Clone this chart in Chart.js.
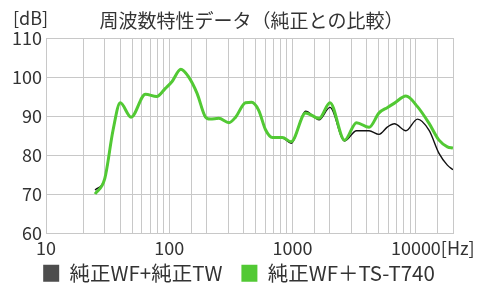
<!DOCTYPE html>
<html>
<head>
<meta charset="utf-8">
<script src="https://cdn.jsdelivr.net/npm/chart.js@4/dist/chart.umd.min.js"></script>
<style>
  html, body { margin: 0; padding: 0; background: #fff; }
  #wrap { width: 478px; height: 294px; }
</style>
</head>
<body>
<div id="wrap"><canvas id="graph"></canvas></div>
<script>
// 周波数 (Hz) と音圧 (dB)
const freqHz = [25, 30, 35, 40, 49, 64, 79, 93, 105, 124, 143, 168, 196, 215, 252, 305, 345, 415, 465, 530, 605, 685, 825, 975, 1275, 1640, 2010, 2640, 3300, 4170, 5030, 5890, 6700, 8300, 10300, 12800, 15400, 18000, 20000];
const stockDb = [71, 74, 86.4, 93.4, 89.7, 95.6, 95.0, 97.1, 98.8, 102.0, 100.1, 95.8, 89.8, 89.2, 89.4, 88.3, 89.7, 93.4, 93.5, 91.5, 86.4, 84.5, 84.4, 83.0, 91.2, 89.0, 92.2, 83.6, 86.2, 86.2, 85.3, 87.2, 88.0, 86.2, 89.2, 86.3, 80.4, 77.4, 76.2];
const t740Db = [70, 74, 86.4, 93.4, 89.7, 95.6, 95.0, 97.1, 98.8, 102.0, 100.1, 95.8, 89.8, 89.2, 89.4, 88.3, 89.7, 93.4, 93.5, 91.5, 86.4, 84.5, 84.5, 83.4, 90.8, 89.4, 93.4, 83.8, 88.3, 87.1, 90.8, 92.2, 93.3, 95.1, 92.4, 88.1, 83.8, 82.1, 81.8];
const seriesNames = ["純正WF+純正TW", "純正WF＋TS-T740"];
const xLabels = [10, 100, 1000, 10000];
const titleText = "周波数特性データ（純正との比較）";

const FONT = "'Noto Sans CJK JP', 'Noto Sans', sans-serif";
const textColor = "#333";

function toPoints(vals) {
  return freqHz.map((f, i) => ({ x: f, y: vals[i] }));
}

// タイトルと単位の描画
const extraText = {
  id: "extraText",
  afterDraw(chart) {
    const ctx = chart.ctx;
    const area = chart.chartArea;
    const x = chart.scales.x;
    ctx.save();
    ctx.fillStyle = textColor;
    ctx.textBaseline = "middle";
    ctx.font = "19px " + FONT;
    ctx.textAlign = "center";
    ctx.fillText(titleText, 251.5, 21);
    ctx.font = "18px " + FONT;
    ctx.textAlign = "left";
    ctx.fillText("[dB]", 13, 18);
    const px = x.getPixelForValue(10000);
    const w = ctx.measureText("10000").width;
    ctx.fillText("[Hz]", px + w / 2, area.bottom + 15);
    ctx.restore();
  }
};

// 凡例の高さと位置を固定する
const legendPlace = {
  id: "legendPlace",
  beforeLayout(chart) {
    const lg = chart.legend;
    if (lg && !lg._patched) {
      const orig = lg.fit.bind(lg);
      lg.fit = function () { orig(); this.height = 37; };
      lg._patched = true;
    }
  },
  afterLayout(chart) {
    const lg = chart.legend;
    lg.left = 0;
    lg.right = chart.width;
    lg.width = chart.width;
    lg.top = 244;
    lg.bottom = chart.height;
    lg.height = chart.height - 244;
  }
};

new Chart(document.getElementById("graph"), {
  type: "line",
  data: {
    datasets: [
      {
        label: seriesNames[0],
        data: toPoints(stockDb),
        borderColor: "#111",
        backgroundColor: "#4d4d4d",
        borderWidth: 1.4,
        order: 1
      },
      {
        label: seriesNames[1],
        data: toPoints(t740Db),
        borderColor: "#52c934",
        backgroundColor: "#52c934",
        borderWidth: 3,
        order: 0
      }
    ]
  },
  options: {
    responsive: true,
    maintainAspectRatio: false,
    animation: false,
    layout: { padding: { top: 38, left: 0, right: 25, bottom: 0 } },
    elements: {
      point: { radius: 0 },
      line: { cubicInterpolationMode: "monotone" }
    },
    scales: {
      x: {
        type: "logarithmic",
        min: 10,
        max: 20000,
        grid: { color: "#c8c8c8", drawTicks: false },
        border: { color: "#c8c8c8" },
        ticks: {
          autoSkip: false,
          maxRotation: 0,
          padding: 4,
          color: textColor,
          font: { family: FONT, size: 18 },
          callback: (v) => xLabels.includes(v) ? String(v) : ""
        },
        afterFit: (s) => { s.height = 24; }
      },
      y: {
        min: 60,
        max: 110,
        grid: { color: "#c8c8c8", drawTicks: false },
        border: { color: "#c8c8c8" },
        ticks: {
          stepSize: 5,
          padding: 4,
          color: textColor,
          font: { family: FONT, size: 18 },
          callback: (v) => v % 10 === 0 ? v : ""
        },
        afterFit: (s) => { s.width = 46; }
      }
    },
    plugins: {
      title: { display: false },
      tooltip: { enabled: false },
      legend: {
        position: "bottom",
        labels: {
          boxWidth: 16,
          boxHeight: 17,
          padding: 19,
          color: textColor,
          font: { family: FONT, size: 20.5 },
          sort: (a, b) => a.datasetIndex - b.datasetIndex,
          generateLabels(chart) {
            return chart.data.datasets.map((ds, i) => ({
              text: ds.label,
              fillStyle: ds.backgroundColor,
              strokeStyle: ds.backgroundColor,
              lineWidth: 0,
              fontColor: textColor,
              datasetIndex: i
            }));
          }
        }
      }
    }
  },
  plugins: [extraText, legendPlace]
});
</script>
</body>
</html>
